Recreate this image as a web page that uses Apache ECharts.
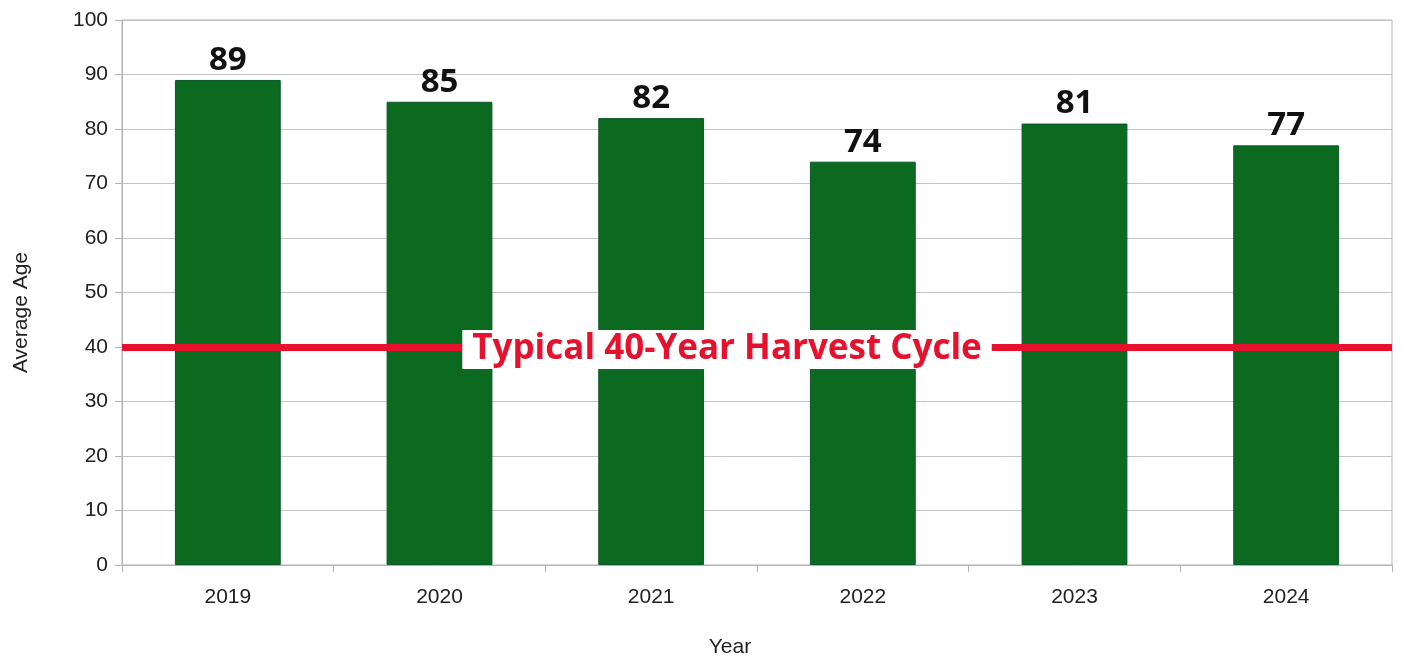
<!DOCTYPE html>
<html><head><meta charset="utf-8">
<script src="https://cdn.jsdelivr.net/npm/echarts@6/dist/echarts.min.js"></script>
<style>html,body{margin:0;padding:0;background:#fff}#c{width:1405px;height:656px}</style>
</head><body><div id="c"></div>
<script>
const years = ['2019','2020','2021','2022','2023','2024'];
const avgAge = [89, 85, 82, 74, 81, 77];
const harvestCycle = 40;
const harvestLabel = 'Typical 40-Year Harvest Cycle';
const xName = 'Year';
const yName = 'Average Age';

const chart = echarts.init(document.getElementById('c'));
chart.setOption({
  animation: false,
  backgroundColor: '#ffffff',
  grid: {left: 122, right: 13, top: 20, bottom: 91, show: true, borderColor: '#b3b3b3', borderWidth: 1, containLabel: false, outerBoundsMode: 'none'},
  xAxis: {
    type: 'category', data: years,
    name: xName, nameLocation: 'middle', nameGap: 72,
    nameTextStyle: {fontFamily: 'Liberation Sans', fontSize: 21, color: '#222', padding: [0, 54, 0, 0]},
    axisLine: {lineStyle: {color: '#b3b3b3'}},
    axisTick: {show: true, length: 7, lineStyle: {color: '#b3b3b3'}},
    axisLabel: {fontFamily: 'Liberation Sans', fontSize: 21, color: '#222', margin: 22}
  },
  yAxis: {
    type: 'value', min: 0, max: 100, interval: 10,
    name: yName, nameLocation: 'middle', nameGap: 90,
    nameTextStyle: {fontFamily: 'Liberation Sans', fontSize: 21, color: '#222', padding: [0, 40, 0, 0]},
    axisLine: {show: true, lineStyle: {color: '#b3b3b3'}},
    axisTick: {show: true, length: 7, lineStyle: {color: '#b3b3b3'}},
    splitLine: {lineStyle: {color: '#c4c4c4'}},
    axisLabel: {fontFamily: 'Liberation Sans', fontSize: 21, color: '#222', margin: 14}
  },
  series: [{
    type: 'bar', data: avgAge, barWidth: '50%',
    itemStyle: {color: '#0b6a1f', borderColor: '#0a5a2a', borderWidth: 1},
    label: {show: true, position: 'top', distance: 3, fontFamily: 'Open Sans', fontWeight: 'bold', fontSize: 33, color: '#111'},
    markLine: {
      silent: true, symbol: 'none',
      lineStyle: {color: '#e8112d', width: 7, type: 'solid'},
      label: {
        show: true, position: 'middle', formatter: harvestLabel,
        fontFamily: 'Open Sans', fontWeight: 'bold', fontSize: 35, color: '#e8112d',
        backgroundColor: '#ffffff', padding: [2, 10], offset: [-30, 27]
      },
      data: [{yAxis: harvestCycle}]
    }
  }]
});
</script></body></html>
